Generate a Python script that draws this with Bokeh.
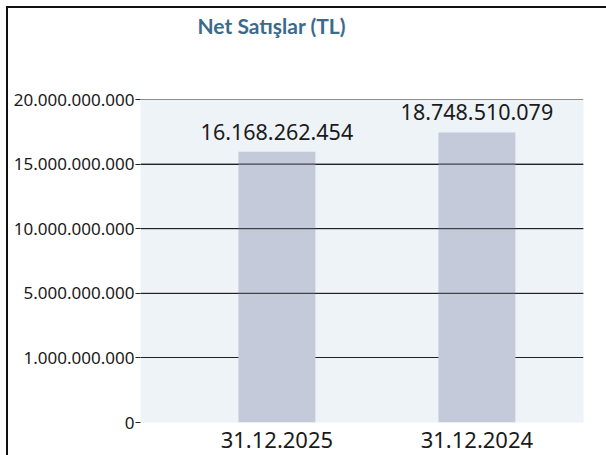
import numpy as np
from bokeh.plotting import figure
from bokeh.models import ColumnDataSource, FixedTicker, Span, Title
from bokeh.core.properties import value
from bokeh.embed import file_html
from bokeh.resources import INLINE

# ---- data ----
categories = ["31.12.2025", "31.12.2024"]
net_sales = [16168262454, 18748510079]          # labelled values
bar_heights = [15.95e9, 17.45e9]                # bar heights as drawn in the picture
tick_values = [0, 1e9, 5e9, 10e9, 15e9, 20e9]
tick_labels = ["0", "1.000.000.000", "5.000.000.000", "10.000.000.000",
               "15.000.000.000", "20.000.000.000"]
label_texts = ["16.168.262.454", "18.748.510.079"]

# the chart's y scale places its ticks evenly (piecewise linear between ticks)
tick_pos = list(range(len(tick_values)))
def to_pos(v):
    return float(np.interp(v, tick_values, tick_pos))

xs = [1, 2]
src = ColumnDataSource(dict(
    x=xs,
    top=[to_pos(v) for v in bar_heights],
    label=label_texts,
))

p = figure(width=598, height=447, output_backend="svg", toolbar_location=None,
           x_range=(0.318, 2.533), y_range=(0, tick_pos[-1]),
           min_border_left=132, min_border_right=23, min_border_bottom=33,
           min_border_top=91, title=None)
p.styles = {"margin-left": "8px", "margin-top": "8px", "outline": "2px solid #111"}
p.background_fill_color = "#EEF3F8"
p.border_fill_color = "white"
p.outline_line_color = None

# blank spacer between the plot area and the title
p.add_layout(Title(text=" ", text_font_size="2px", standoff=56), "above")
t = Title(text="Net Satışlar (TL)", align="left", offset=57,
          text_font="Lato", text_font_size="21px", text_font_style="bold",
          text_color="#3B6A8C", vertical_align="top", standoff=0)
p.add_layout(t, "above")

# bars
p.vbar(x="x", top="top", width=0.385, bottom=0, source=src,
       fill_color="#C5CADB", line_color=None)

# value labels
p.text(x="x", y="top", text="label", source=src, text_align="center",
       text_baseline="bottom", y_offset=-12, text_font_size=value("21.5px"),
       text_font=value("Noto Sans"), text_color="#1a1a1a")

# y axis
p.yaxis.ticker = FixedTicker(ticks=tick_pos)
p.yaxis.major_label_overrides = {i: s for i, s in zip(tick_pos, tick_labels)}
p.yaxis.axis_line_color = None
p.yaxis.major_tick_in = 0
p.yaxis.major_tick_out = 5
p.yaxis.major_tick_line_color = "#222222"
p.yaxis.minor_tick_line_color = None
p.yaxis.major_label_standoff = 1
p.yaxis.major_label_text_font = "Noto Sans"
p.yaxis.major_label_text_font_size = "17px"
p.yaxis.major_label_text_color = "#1a1a1a"

# x axis
p.xaxis.ticker = FixedTicker(ticks=xs)
p.xaxis.major_label_overrides = {x: c for x, c in zip(xs, categories)}
p.xaxis.axis_line_color = None
p.xaxis.major_tick_line_color = None
p.xaxis.minor_tick_line_color = None
p.xaxis.major_label_standoff = 3
p.xaxis.major_label_text_font = "Noto Sans"
p.xaxis.major_label_text_font_size = "22px"
p.xaxis.major_label_text_color = "#1a1a1a"

# grid: lower lines sit under the bars, upper lines over them
p.xgrid.grid_line_color = None
p.ygrid.ticker = FixedTicker(ticks=tick_pos)
p.ygrid.grid_line_color = "#222222"
p.ygrid.grid_line_width = 1
for v, pos in zip(tick_values, tick_pos):
    if v >= 5e9:
        p.add_layout(Span(location=pos, dimension="width", line_color="#222222",
                          line_width=1, level="overlay"))

open("out.html", "w").write(file_html(p, INLINE))
